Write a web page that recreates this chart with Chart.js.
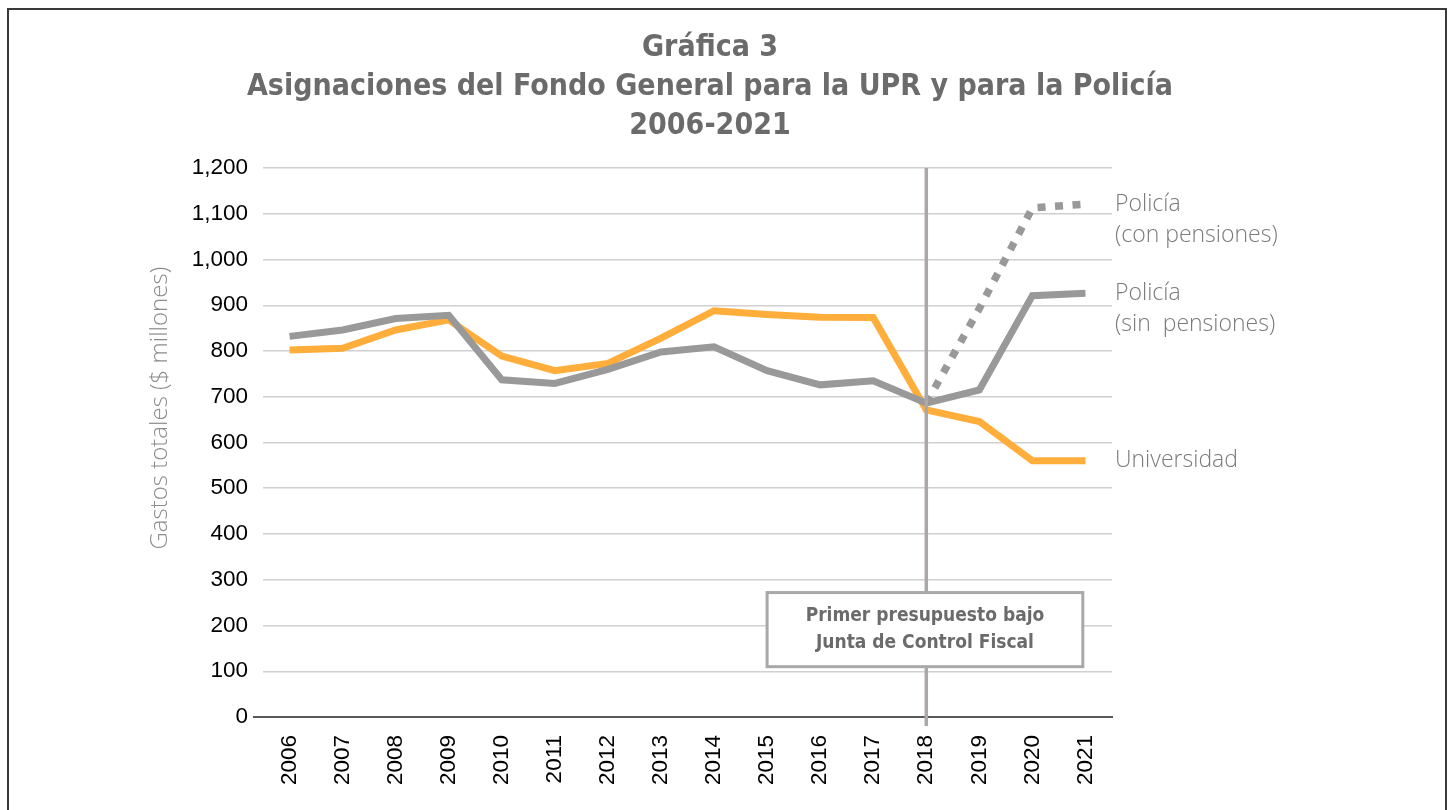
<!DOCTYPE html>
<html>
<head>
<meta charset="utf-8">
<script src="https://cdn.jsdelivr.net/npm/chart.js@4.4.1/dist/chart.umd.min.js"></script>
<style>
  body { margin: 0; background: #fff; }
  #marco { position: absolute; left: 7px; top: 8px; width: 1436px; height: 820px; border: 2px solid #3a3a3a; border-bottom: none; }
  #lienzo { position: absolute; left: 0; top: 0; }
</style>
</head>
<body>
<div id="marco"></div>
<canvas id="lienzo" width="1450" height="810"></canvas>
<script>
// datos ($ millones)
const anios = ['2006', '2007', '2008', '2009', '2010', '2011', '2012', '2013',
               '2014', '2015', '2016', '2017', '2018', '2019', '2020', '2021'];
const universidad = [802, 806, 846, 868, 789, 757, 773, 828, 888, 880, 874, 873, 671, 646, 560, 560];
const policiaSinPensiones = [832, 846, 871, 878, 737, 729, 760, 798, 809, 757, 726, 735, 686, 715, 921, 926];
const policiaConPensiones = [null, null, null, null, null, null, null, null, null, null, null, null, 686, 893, 1113, 1121];
const ejeYMax = 1200;
const ejeYPaso = 100;

const titulo = ['Gráfica 3', 'Asignaciones del Fondo General para la UPR y para la Policía', '2006-2021'];
const tituloEjeY = 'Gastos totales ($ millones)';
const notaJunta = ['Primer presupuesto bajo', 'Junta de Control Fiscal'];

const fuenteCondensada = "'DejaVu Sans Condensed', 'Liberation Sans Narrow', 'Open Sans', sans-serif";
const fuenteNumeros = "'Liberation Sans', Arial, sans-serif";
const naranja = '#ffad3b';
const gris = '#999999';

// donde va la nota y la linea vertical (en unidades de los ejes)
const nota = { xDesde: 9, xHasta: 14.95, yDesde: 110, yHasta: 272 };
const indiceJunta = 12;

const anotaciones = {
  id: 'anotaciones',
  afterDatasetsDraw(chart) {
    const ctx = chart.ctx;
    const x = chart.scales.x;
    const y = chart.scales.y;
    const area = chart.chartArea;

    // linea vertical 2018
    const xv = x.getPixelForValue(indiceJunta);
    ctx.save();
    ctx.beginPath();
    ctx.moveTo(xv, area.top);
    ctx.lineTo(xv, area.bottom + 9);
    ctx.lineWidth = 3.5;
    ctx.strokeStyle = '#aca8a8';
    ctx.stroke();

    // caja
    const x1 = x.getPixelForValue(nota.xDesde);
    const x2 = x.getPixelForValue(nota.xHasta);
    const y1 = y.getPixelForValue(nota.yHasta);
    const y2 = y.getPixelForValue(nota.yDesde);
    ctx.fillStyle = '#fff';
    ctx.fillRect(x1, y1, x2 - x1, y2 - y1);
    ctx.lineWidth = 3;
    ctx.strokeStyle = '#a8a8a8';
    ctx.strokeRect(x1, y1, x2 - x1, y2 - y1);

    ctx.fillStyle = '#6b6b6b';
    ctx.font = 'bold 19px ' + fuenteCondensada;
    ctx.textAlign = 'center';
    ctx.textBaseline = 'middle';
    const cx = (x1 + x2) / 2;
    const cy = (y1 + y2) / 2;
    ctx.fillText(notaJunta[0], cx, cy - 13.5);
    ctx.fillText(notaJunta[1], cx, cy + 13.5);
    ctx.restore();
  },
  afterDraw(chart) {
    const ctx = chart.ctx;
    const y = chart.scales.y;
    const area = chart.chartArea;
    ctx.save();

    // etiquetas a la derecha de cada serie
    ctx.font = '300 23px "Open Sans", sans-serif';
    ctx.fillStyle = '#7a7a7a';
    ctx.textAlign = 'left';
    ctx.textBaseline = 'middle';
    const xl = area.right + 3;
    const ult = anios.length - 1;
    let yy = y.getPixelForValue(policiaConPensiones[ult]);
    ctx.fillText('Policía', xl, yy);
    ctx.fillText('(con pensiones)', xl, yy + 31);
    yy = y.getPixelForValue(policiaSinPensiones[ult]);
    ctx.fillText('Policía', xl, yy);
    ctx.fillText('(sin  pensiones)', xl, yy + 31);
    yy = y.getPixelForValue(universidad[ult]);
    ctx.fillText('Universidad', xl, yy);

    // titulo del eje y
    ctx.translate(160, y.getPixelForValue(675));
    ctx.rotate(-Math.PI / 2);
    ctx.textAlign = 'center';
    ctx.fillStyle = '#8c8c8c';
    ctx.font = '300 24px "Open Sans", sans-serif';
    ctx.fillText(tituloEjeY, 0, 0);
    ctx.restore();
  }
};

const grafica = new Chart(document.getElementById('lienzo'), {
  type: 'line',
  data: {
    labels: anios,
    datasets: [
      {
        label: 'Policía (con pensiones)',
        data: policiaConPensiones,
        borderColor: gris,
        borderWidth: 7.5,
        borderDash: [8, 9.5],
        borderCapStyle: 'butt',
        pointRadius: 0,
        fill: false
      },
      {
        label: 'Policía (sin pensiones)',
        data: policiaSinPensiones,
        borderColor: gris,
        borderWidth: 7,
        pointRadius: 0,
        fill: false
      },
      {
        label: 'Universidad',
        data: universidad,
        borderColor: naranja,
        borderWidth: 7,
        pointRadius: 0,
        fill: false
      }
    ]
  },
  options: {
    responsive: false,
    animation: false,
    layout: { padding: { left: 0, right: 30, top: 0, bottom: 0 } },
    plugins: {
      legend: { display: false },
      tooltip: { enabled: false },
      title: {
        display: true,
        text: titulo,
        color: '#6b6b6b',
        font: { family: fuenteCondensada, size: 30, weight: 'bold', lineHeight: '39px' },
        padding: { top: 29, bottom: 22 }
      }
    },
    scales: {
      x: {
        offset: true,
        grid: { display: false },
        border: { color: '#595959', width: 2 },
        ticks: {
          color: '#000',
          font: { family: fuenteNumeros, size: 22.5 },
          minRotation: 90,
          maxRotation: 90,
          autoSkip: false,
          padding: 10
        },
        afterFit(s) { s.height = 93; }
      },
      y: {
        min: 0,
        max: ejeYMax,
        border: { display: false },
        grid: {
          color: c => c.tick && c.tick.value === 0 ? '#595959' : '#d0d0d0',
          lineWidth: c => c.tick && c.tick.value === 0 ? 2 : 1.5,
          tickColor: c => c.tick && c.tick.value === 0 ? '#595959' : 'rgba(0,0,0,0)',
          tickLength: 10,
          drawTicks: true
        },
        ticks: {
          stepSize: ejeYPaso,
          color: '#000',
          padding: 5,
          font: { family: fuenteNumeros, size: 22.5 },
          callback: v => v.toLocaleString('en-US')
        },
        afterFit(s) { s.width = 263; }
      },
      yDerecha: {
        position: 'right',
        min: 0,
        max: ejeYMax,
        grid: { display: false },
        border: { display: false },
        ticks: { display: false },
        afterFit(s) { s.width = 308; }
      }
    }
  },
  plugins: [anotaciones]
});
</script>
</body>
</html>
